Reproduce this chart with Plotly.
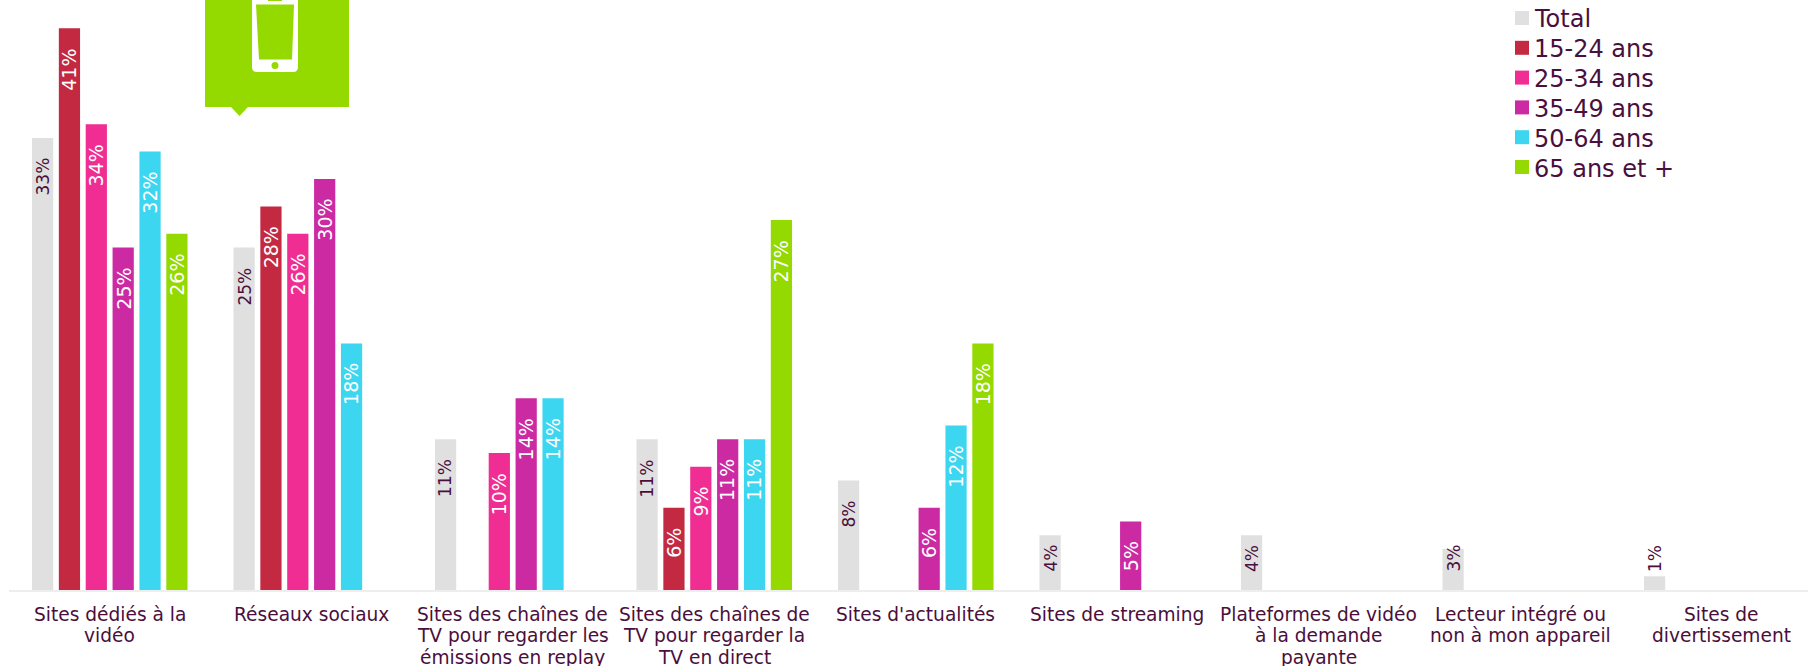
import plotly.graph_objects as go

categories = [
    "Sites dédiés à la<br>vidéo",
    "Réseaux sociaux",
    "Sites des chaînes de<br>TV pour regarder les<br>émissions en replay",
    "Sites des chaînes de<br>TV pour regarder la<br>TV en direct",
    "Sites d'actualités",
    "Sites de streaming",
    "Plateformes de vidéo<br>à la demande<br>payante",
    "Lecteur intégré ou<br>non à mon appareil",
    "Sites de<br>divertissement",
]
series_names = ["Total", "15-24 ans", "25-34 ans", "35-49 ans", "50-64 ans", "65 ans et +"]
total = [33, 25, 11, 11, 8, 4, 4, 3, 1]
age_15_24 = [41, 28, None, 6, None, None, None, None, None]
age_25_34 = [34, 26, 10, 9, None, None, None, None, None]
age_35_49 = [25, 30, 14, 11, 6, 5, None, None, None]
age_50_64 = [32, 18, 14, 11, 12, None, None, None, None]
age_65_plus = [26, None, None, 27, 18, None, None, None, None]
series_values = [total, age_15_24, age_25_34, age_35_49, age_50_64, age_65_plus]
series_colors = ["#e0e0e0", "#c32a41", "#f02d92", "#cc2aa2", "#3dd6f0", "#94d900"]

INK = "#4a0f3c"
FONT = "DejaVu Sans"
W, H = 1808, 666
LEFT, BASE = 9, 590
BAND = 201.5
PX_PER_PCT = 13.7
GROUP_SHARE = 0.8
BAR_GAP = 0.21


def px(x):
    return (x - LEFT) / (W - LEFT)


def py(y):
    return (BASE - y) / BASE


fig = go.Figure()
indices = list(range(len(categories)))
for name, values, color in zip(series_names, series_values, series_colors):
    fig.add_bar(x=indices, y=values, name=name, marker_color=color, marker_line_width=0, showlegend=False)

# Rotated value labels sit a fixed distance under each bar top, with a floor for short bars
annotations = []
slot = GROUP_SHARE / len(series_names)
floor_pct = 46 / PX_PER_PCT
for s, values in enumerate(series_values):
    for i, v in enumerate(values):
        if v is None:
            continue
        annotations.append(dict(
            x=i + (s - 2.5) * slot, y=max(v - 19 / PX_PER_PCT, floor_pct),
            xref="x", yref="y", text=f"{v}%", showarrow=False, textangle=-90,
            xanchor="center", yanchor="top", borderpad=0,
            font=dict(family=FONT, size=17 if s == 0 else 19, color=INK if s == 0 else "#ffffff"),
        ))

# Category names are set line by line for a tight leading under the axis
for i, label in enumerate(categories):
    for n, line in enumerate(label.split("<br>")):
        annotations.append(dict(
            x=i, y=py(614.5 + 21.4 * n), xref="x", yref="paper", text=line, showarrow=False,
            xanchor="center", yanchor="middle", borderpad=0,
            font=dict(family=FONT, size=18.6, color=INK),
        ))

# Legend column: square swatch followed by its label
shapes = []
for k, (name, color) in enumerate(zip(series_names, series_colors)):
    cy = 18 + 29.8 * k
    shapes.append(dict(type="rect", xref="paper", yref="paper", layer="above",
                       x0=px(1515), x1=px(1529), y0=py(cy + 7), y1=py(cy - 7),
                       fillcolor=color, line_width=0))
    annotations.append(dict(x=px(1533), y=py(cy + 1.5), xref="paper", yref="paper", text=name,
                            showarrow=False, xanchor="left", yanchor="middle", borderpad=0,
                            font=dict(family=FONT, size=24, color=INK)))

# Green callout with a phone pictogram, cut by the top edge of the page
GREEN = "#94d900"


def path(points):
    return "M " + " L ".join(f"{px(x)},{py(y)}" for x, y in points) + " Z"


shapes.append(dict(type="path", xref="paper", yref="paper", fillcolor=GREEN, line_width=0,
                   path=path([(205, 0), (349, 0), (349, 107), (248, 107), (239.5, 116), (231, 107), (205, 107)])))
shapes.append(dict(type="path", xref="paper", yref="paper", fillcolor="#ffffff", line_width=0,
                   path=(f"M {px(252)},{py(0)} L {px(298)},{py(0)} L {px(298)},{py(67)} "
                         f"Q {px(298)},{py(72)} {px(293)},{py(72)} L {px(257)},{py(72)} "
                         f"Q {px(252)},{py(72)} {px(252)},{py(67)} Z")))
shapes.append(dict(type="path", xref="paper", yref="paper", fillcolor=GREEN, line_width=0,
                   path=path([(256, 4.5), (294, 4.5), (292, 59.5), (259, 59.5)])))
shapes.append(dict(type="rect", xref="paper", yref="paper", fillcolor=GREEN, line_width=0,
                   x0=px(268), x1=px(282), y0=py(1), y1=py(0)))
shapes.append(dict(type="circle", xref="paper", yref="paper", fillcolor=GREEN, line_width=0,
                   x0=px(271.5), x1=px(278.5), y0=py(69), y1=py(62)))

fig.update_layout(
    width=W, height=H,
    margin=dict(l=LEFT, r=0, t=0, b=H - BASE, pad=0),
    paper_bgcolor="#ffffff", plot_bgcolor="#ffffff",
    barmode="group", bargap=1 - GROUP_SHARE, bargroupgap=BAR_GAP,
    showlegend=False,
    annotations=annotations, shapes=shapes,
    font=dict(family=FONT, color=INK),
    xaxis=dict(
        range=[-0.5, (W - LEFT) / BAND - 0.5],
        tickmode="array", tickvals=indices, showticklabels=False,
        ticks="", showgrid=False, zeroline=False,
        showline=True, linecolor="#eeeeee", linewidth=2,
    ),
    yaxis=dict(range=[0, BASE / PX_PER_PCT], visible=False, fixedrange=True),
)

fig.write_html("out.html", config={"displayModeBar": False})
